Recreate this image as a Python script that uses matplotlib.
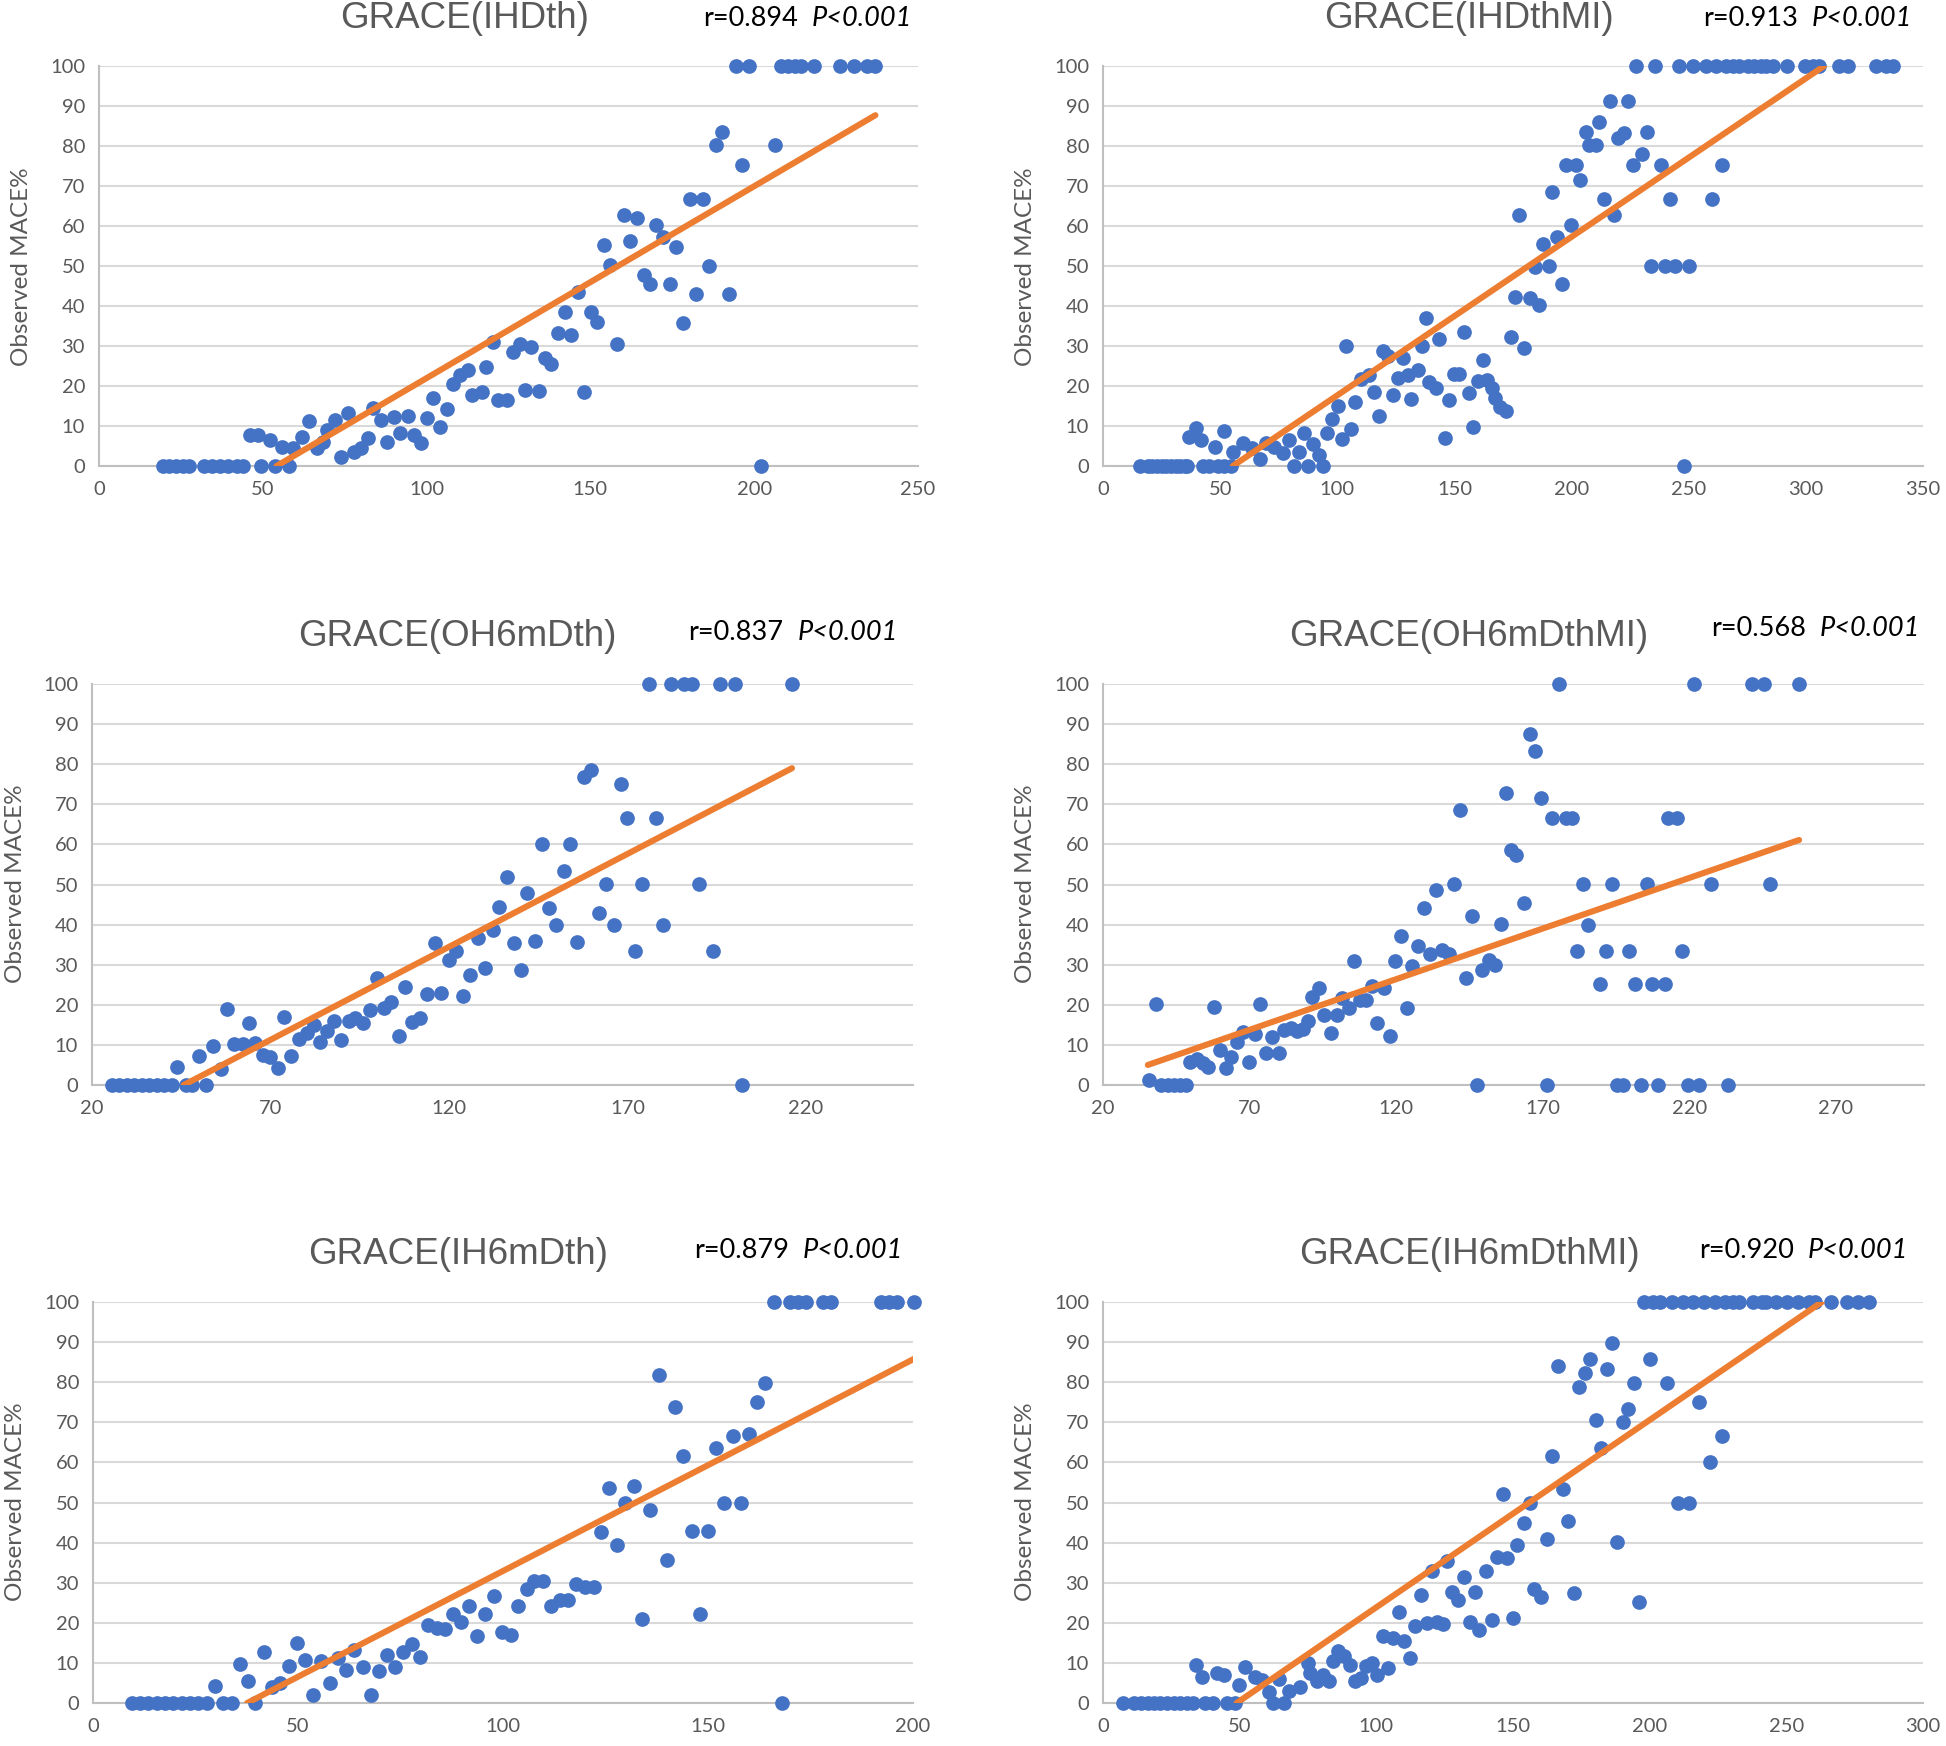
import matplotlib
matplotlib.use("Agg")
import matplotlib.pyplot as plt
import numpy as np

# ---------------- data ----------------
# GRACE(IHDth)
ihdth_x0 = [19.5, 21.5, 23.5, 25.5, 27.5, 32, 34.5, 37, 39.5, 42, 44, 49.6, 53.7, 58, 202.2]
ihdth_x100 = [194.3, 198.4, 208.3, 210.3, 212.4, 214.4, 218.2, 226.2, 230.5, 234.4, 237]
ihdth_x = [46, 48.6, 52.1, 56, 59.3, 62, 64, 66.4, 68.4, 69.6, 72, 74, 76, 77.8, 80.1, 82.2,
           83.7, 86.1, 88, 90, 92, 94.2, 96.1, 98.2, 100.2, 102, 104.1, 106.1, 108.1, 110.2,
           112.7, 114, 116.8, 118.1, 120.3, 121.9, 124.4, 126.3, 128.5, 130, 132, 134.3, 136,
           138.1, 140.1, 142.1, 144, 146.2, 148.1, 150.3, 152.1, 154.2, 156.1, 158.1, 160.2,
           162.2, 164.2, 166.3, 168.3, 170.1, 172.2, 174.2, 176.2, 178.3, 180.3, 182.3, 184.4,
           186.2, 188.2, 190.2, 192.3, 196.3, 206.3]
ihdth_y = [7.7, 7.7, 6.5, 4.8, 4.4, 7.3, 11.3, 4.4, 6.1, 9, 11.5, 2.3, 13.2, 3.6, 4.4, 6.9,
           14.4, 11.5, 6.1, 12.3, 8.3, 12.5, 7.7, 5.7, 12.1, 16.9, 9.8, 14.2, 20.6, 22.7,
           24.1, 17.7, 18.6, 24.8, 31, 16.5, 16.5, 28.6, 30.6, 19, 29.8, 18.8, 26.9,
           25.6, 33.3, 38.4, 32.7, 43.6, 18.6, 38.4, 36.1, 55.3, 50.2, 30.6, 62.7,
           56.3, 61.9, 47.7, 45.6, 60.2, 57.3, 45.6, 54.8, 35.8, 66.7, 43, 66.7,
           50, 80.2, 83.5, 43, 75.2, 80.2]
ihdth_trend = ([54.2, 237], [0, 87.7])

# GRACE(IHDthMI)
ihdthmi_x0 = [15.6, 19, 21, 23, 25, 27, 29, 31, 33, 35, 36, 42.6, 45.4, 49, 51.8, 54.7,
              81.7, 87.4, 93.8, 248.2]
ihdthmi_x100 = [227.7, 235.7, 246, 252, 257.3, 261.6, 265.9, 268.7, 271.6, 275.1, 278, 280.8,
                283, 285.8, 291.8, 299.7, 302.9, 305.7, 314, 317.8, 329.9, 334.2, 337]
ihdthmi_x = [36.9, 39.7, 41.9, 47.6, 51.8, 55.4, 59.6, 63.6, 66.8, 69.6, 73.2, 76.7, 79.6,
             83.8, 86, 89.8, 92.4, 95.6, 97.8, 100.2, 102, 105.9, 103.7, 107.7, 110.2, 113.7,
             115.8, 118, 119.7, 121.6, 123.7, 125.8, 128, 130.1, 131.5, 134.3, 136.2, 137.9,
             139.3, 142.1, 143.6, 146.1, 147.8, 149.7, 152.1, 154, 156.1, 157.8, 160, 162.1,
             163.9, 166, 167.5, 169.5, 172, 174.2, 176, 177.4, 179.8, 182.3, 184.2, 186, 187.8,
             190.2, 191.6, 193.6, 195.9, 197.6, 199.8, 202.1, 203.7, 206.1, 207.6, 210.4,
             211.8, 214, 216.2, 218.3, 219.8, 222.2, 224, 226.2, 230.1, 232.2, 233.9, 238.1,
             240, 242, 244.3, 250.3, 260, 264.2]
ihdthmi_y = [7.3, 9.4, 6.5, 4.8, 8.7, 3.6, 5.7, 4.4, 1.7, 5.8, 4.8, 3.2, 6.5,
             3.6, 8.3, 5.4, 2.7, 8.2, 11.7, 15, 6.7, 9.2, 30, 15.9, 21.7, 22.7,
             18.6, 12.5, 28.7, 27.5, 17.7, 21.9, 26.9, 22.7, 16.7, 24.1, 30, 36.9,
             21, 19.4, 31.7, 7.1, 16.5, 23.1, 23.1, 33.4, 18.3, 9.8, 21.2, 26.6,
             21.5, 19.4, 16.9, 14.8, 13.7, 32.3, 42.3, 62.7, 29.4, 41.9, 49.8, 40.2, 55.6,
             50, 68.5, 57.3, 45.6, 75.2, 60.2, 75.2, 71.4, 83.5, 80.2, 80.2,
             86, 66.7, 91.3, 62.7, 82.1, 83.3, 91.3, 75.2, 77.9, 83.5, 50, 75.2,
             50, 66.7, 50, 50, 66.7, 75.2]
ihdthmi_trend = ([55.4, 307.8], [0, 100])

# GRACE(OH6mDth)
oh6mdth_x0 = [25.6, 27.7, 29.8, 31.9, 34, 36.1, 38.2, 40.3, 42.4, 46.2, 48, 52, 202.1]
oh6mdth_x100 = [176, 182.1, 185.9, 188.2, 196, 200.2, 216.1]
oh6mdth_x = [43.8, 49.9, 53.9, 56, 57.8, 59.9, 62.2, 63.9, 65.8, 67.9, 70, 72, 73.9, 75.8,
             77.9, 80.3, 82.1, 83.8, 85.9, 87.9, 89.8, 92, 93.8, 96, 97.8, 99.9, 101.8, 103.8,
             106, 107.8, 109.7, 111.9, 113.9, 116, 117.8, 120, 122.1, 124, 125.9, 128, 130,
             132.2, 134.1, 136.2, 138.1, 140.1, 142, 144.1, 146.2, 148.1, 149.9, 152.1, 154,
             156, 157.9, 159.9, 162.1, 164.1, 166.1, 168.1, 170, 172, 174, 178, 180, 190.1,
             194.1]
oh6mdth_y = [4.4, 7.3, 9.7, 3.9, 18.9, 10.2, 10.2, 15.5, 10.4, 7.6, 7.1, 4.2, 16.9, 7.3,
             11.4, 12.9, 15, 10.8, 13.5, 16, 11.2, 16, 16.6, 15.5, 18.7, 26.8, 19.1, 20.8,
             12.3, 24.5, 15.8, 16.6, 22.6, 35.5, 22.9, 31.2, 33.3, 22.2, 27.4, 36.6, 29.1,
             38.7, 44.5, 51.8, 35.5, 28.6, 48, 35.9, 60.1, 44.1, 40, 53.4, 60.1,
             35.6, 76.9, 78.5, 42.8, 50.1, 40, 75, 66.7, 33.4, 50.1, 66.7, 40, 50.1,
             33.4]
oh6mdth_trend = ([45.7, 216.1], [0, 79])

# GRACE(OH6mDthMI)
oh6mdthmi_x0 = [39.9, 42, 44.1, 46.3, 48.4, 147.6, 171.5, 195.3, 197.5, 203.6, 209.4, 219.4,
                223.4, 233.3]
oh6mdthmi_x100 = [175.5, 221.5, 241.2, 245.5, 257.4]
oh6mdthmi_x = [35.7, 38, 49.6, 51.9, 54.1, 55.8, 57.9, 59.8, 61.8, 63.8, 65.8, 67.7, 69.8,
               71.9, 73.7, 75.7, 77.7, 79.9, 81.6, 84, 86.1, 88.1, 89.8, 91.3, 93.6, 95.5,
               97.8, 99.7, 101.5, 103.8, 105.7, 107.7, 109.7, 111.7, 113.6, 115.9, 117.8,
               119.6, 121.8, 123.8, 125.5, 127.6, 129.5, 131.4, 133.7, 135.5, 138, 139.7,
               141.6, 143.7, 145.7, 149.4, 151.6, 153.7, 155.6, 157.5, 159, 160.7, 163.5,
               165.6, 167.5, 169.5, 173.2, 177.8, 180, 181.7, 183.6, 185.4, 189.6, 191.6,
               193.6, 199.5, 201.5, 205.5, 207.4, 211.5, 212.8, 215.7, 217.4, 227.4, 247.4]
oh6mdthmi_y = [1.2, 20.2, 5.8, 6.4, 5.6, 4.4, 19.5, 8.7, 4.2, 7.1, 10.8, 13.3, 5.8,
               12.7, 20.2, 7.9, 11.9, 7.9, 13.7, 14.1, 13.5, 13.9, 16, 22, 24.1, 17.5,
               13, 17.5, 21.6, 19.1, 30.8, 21.2, 21.2, 24.7, 15.4, 24.1, 12.3,
               30.8, 37.2, 19.1, 29.7, 34.7, 44.1, 32.7, 48.6, 33.7, 32.6, 50.1,
               68.6, 26.6, 42.1, 28.7, 31.2, 29.9, 40.1, 72.9, 58.6, 57.4, 45.3,
               87.5, 83.3, 71.5, 66.7, 66.7, 66.7, 33.4, 50.1, 40, 25.1, 33.4,
               50.1, 33.4, 25.1, 50.1, 25.1, 25.1, 66.7, 66.7, 33.4, 50.1, 50.1]
oh6mdthmi_trend = ([35.3, 257.4], [5, 61.1])

# GRACE(IH6mDth)
ih6mdth_x0 = [9.5, 11.5, 13.5, 15.6, 17.6, 19.6, 21.6, 23.7, 25.7, 27.8, 31.7, 33.9, 39.6, 168]
ih6mdth_x100 = [166, 170, 172, 173.9, 178, 180, 192.2, 194.2, 196.1, 200.2]
ih6mdth_x = [29.7, 35.8, 37.7, 41.6, 43.7, 45.7, 47.7, 49.7, 51.8, 53.7, 55.6, 57.7, 59.7,
             61.7, 63.7, 65.8, 67.8, 69.7, 71.7, 73.7, 75.6, 77.8, 79.8, 81.7, 83.9, 85.9,
             87.8, 89.7, 91.8, 93.7, 95.7, 97.7, 99.7, 102, 103.6, 105.9, 107.5, 109.8,
             111.8, 113.8, 115.9, 117.9, 120.1, 122.1, 123.9, 125.8, 127.8, 129.8, 131.9,
             133.9, 135.9, 138, 139.9, 141.9, 144, 146, 148, 150, 152, 154, 156.1, 158, 160,
             162, 164]
ih6mdth_y = [4.3, 9.7, 5.6, 12.7, 4.1, 5, 9.3, 14.9, 10.8, 2.1, 10.4, 5, 11.2,
             8.3, 13.1, 9.1, 2.1, 8, 12, 9, 12.6, 14.7, 11.4, 19.5, 18.8, 18.4,
             22.2, 20.1, 24.2, 16.8, 22.2, 26.7, 17.8, 17, 24.1, 28.5, 30.5, 30.5,
             24.2, 25.8, 25.6, 29.6, 29, 29, 42.6, 53.5, 39.3, 50, 54.2,
             21, 48.2, 81.8, 35.7, 73.7, 61.5, 42.8, 22.2, 42.8, 63.6, 50, 66.7, 50, 67.1,
             75, 79.9]
ih6mdth_trend = ([37.6, 200.2], [0, 85.8])

# GRACE(IH6mDthMI)
ih6mdthmi_x0 = [7.4, 11.5, 13.9, 16.3, 18.7, 21, 23.4, 25.8, 28.2, 30.6, 33, 37.3, 40.4, 45.2,
                48.3, 62.1, 66.3]
ih6mdthmi_x100 = [197.9, 201.1, 203.8, 208.1, 212.1, 216, 219.9, 223.9, 227.6, 230.6, 232.5,
                  237.9, 241, 242.6, 246.3, 250.4, 254.4, 258.4, 260.5, 266.3, 272.1, 276.4,
                  280.4]
ih6mdthmi_x = [34, 36.1, 41.6, 44.3, 49.9, 51.9, 55.6, 58, 60.9, 64.4, 68.2, 72.1, 75.1, 75.7,
               78.2, 80.4, 82.5, 84, 86.1, 88.2, 90.4, 92.2, 94.3, 96.2, 98.3, 100.1, 102.3,
               104.4, 106.2, 108.4, 110.1, 112.3, 114.2, 116.2, 118.4, 120.3, 122.1, 124.5,
               126, 127.6, 130, 132.1, 134.1, 136.1, 137.7, 140.1, 142.2, 144, 146.2, 147.7,
               149.9, 151.3, 154, 156.2, 157.8, 160.3, 162.3, 164.2, 166.3, 168.2, 170.3,
               172.3, 174.2, 176.3, 178.2, 180.3, 182.1, 184.3, 186.2, 188.2, 190.1, 192.2,
               194.3, 196.2, 200.1, 206.2, 210.2, 214.4, 218.2, 222.1, 226.3]
ih6mdthmi_y = [9.5, 6.5, 7.5, 7, 4.6, 8.9, 6.5, 5.8, 2.7, 6, 2.9, 4, 10, 7.5,
               5.4, 7.1, 5.4, 10.4, 12.9, 11.6, 9.5, 5.4, 6.2, 9.3, 10, 7.1, 16.8,
               8.7, 16.2, 22.8, 15.4, 11.2, 19.3, 27, 19.9, 32.8, 20.3, 19.8,
               35.3, 27.8, 25.6, 31.5, 20.3, 27.8, 18.3, 32.8, 20.7, 36.3, 52.1, 36.1,
               21.2, 39.4, 44.8, 50, 28.5, 26.4, 40.8, 61.5, 84.1, 53.4, 45.5,
               27.4, 78.7, 82.4, 85.8, 70.6, 63.7, 83.4, 89.9, 40.1, 70, 73.3,
               79.9, 25.1, 85.8, 79.9, 50, 50, 75, 60, 66.7]
ih6mdthmi_trend = ([48.9, 263], [0, 100])

titles = ["GRACE(IHDth)", "GRACE(IHDthMI)", "GRACE(OH6mDth)",
          "GRACE(OH6mDthMI)", "GRACE(IH6mDth)", "GRACE(IH6mDthMI)"]
r_labels = ["r=0.894", "r=0.913", "r=0.837", "r=0.568", "r=0.879", "r=0.920"]
x_limits = [(0, 250), (0, 350), (20, 250), (20, 300), (0, 200), (0, 300)]
x_ticks = [np.arange(0, 251, 50), np.arange(0, 351, 50), np.arange(20, 221, 50),
           np.arange(20, 271, 50), np.arange(0, 201, 50), np.arange(0, 301, 50)]

series = [
    (ihdth_x, ihdth_y, ihdth_x0, ihdth_x100, ihdth_trend),
    (ihdthmi_x, ihdthmi_y, ihdthmi_x0, ihdthmi_x100, ihdthmi_trend),
    (oh6mdth_x, oh6mdth_y, oh6mdth_x0, oh6mdth_x100, oh6mdth_trend),
    (oh6mdthmi_x, oh6mdthmi_y, oh6mdthmi_x0, oh6mdthmi_x100, oh6mdthmi_trend),
    (ih6mdth_x, ih6mdth_y, ih6mdth_x0, ih6mdth_x100, ih6mdth_trend),
    (ih6mdthmi_x, ih6mdthmi_y, ih6mdthmi_x0, ih6mdthmi_x100, ih6mdthmi_trend),
]

# ---------------- layout (pixels of the 1946x1746 canvas) ----------------
W, H = 1946, 1746
# left, top, right, bottom of each plot area
rects = [(99, 66, 918, 466), (1103, 66, 1923, 466),
         (92, 684, 913, 1085), (1103, 684, 1924, 1085),
         (93, 1302, 913, 1703), (1103, 1302, 1923, 1703)]
title_pos = [(465, 19), (1469, 19), (457, 636), (1469, 636), (458, 1254), (1469, 1254)]
rtext_pos = [(912, 18), (1912, 18), (898, 633), (1920, 629), (903, 1251), (1908, 1251)]
ylabel_pos = [(22, 267), (1025, 267), (16, 884), (1025, 884), (16, 1502), (1025, 1502)]

BLUE = "#4472C4"
ORANGE = "#ED7D31"
GREY_TXT = "#595959"
GRID = "#D9D9D9"

fig = plt.figure(figsize=(W / 100, H / 100), dpi=100)

for i, (xs, ys, x0, x100, trend) in enumerate(series):
    l, t, r, b = rects[i]
    ax = fig.add_axes([l / W, 1 - b / H, (r - l) / W, (b - t) / H])

    all_x = list(xs) + list(x0) + list(x100)
    all_y = list(ys) + [0] * len(x0) + [100] * len(x100)
    ax.scatter(all_x, all_y, s=112, color=BLUE, linewidths=0, zorder=3, clip_on=False)
    ax.plot(trend[0], trend[1], color=ORANGE, lw=4.4, solid_capstyle="round", zorder=4)

    ax.set_xlim(*x_limits[i])
    ax.set_ylim(0, 100)
    ax.set_xticks(x_ticks[i])
    ax.set_yticks(np.arange(0, 101, 10))
    ax.grid(axis="y", color=GRID, lw=1.5, zorder=0)
    ax.set_axisbelow(True)
    for side in ("top", "right"):
        ax.spines[side].set_visible(False)
    for side in ("left", "bottom"):
        ax.spines[side].set_color("#BFBFBF")
        ax.spines[side].set_linewidth(1.5)
    ax.tick_params(length=0, labelsize=14.5, labelcolor=GREY_TXT)
    ax.tick_params(axis="x", pad=11)
    ax.tick_params(axis="y", pad=10)
    for lab in ax.get_xticklabels() + ax.get_yticklabels():
        lab.set_family("Lato")

    tx, ty = title_pos[i]
    fig.text(tx / W, 1 - ty / H, titles[i], ha="center", va="center",
             fontsize=26.5, color=GREY_TXT, family="Liberation Sans")

    rx, ry = rtext_pos[i]
    ptxt = fig.text(rx / W, 1 - ry / H, "P<0.001", ha="right", va="center",
                    fontsize=19.5, style="italic", family="Lato", color="black")
    ax.annotate(r_labels[i], xy=(0, 0.5), xycoords=ptxt, xytext=(-10, 0),
                textcoords="offset points", ha="right", va="center",
                fontsize=19.5, family="Lato", color="black", annotation_clip=False)

    lx, ly = ylabel_pos[i]
    fig.text(lx / W, 1 - ly / H, "Observed MACE%", rotation=90, ha="center", va="center",
             fontsize=17.5, color=GREY_TXT, family="Lato")

fig.savefig("out.png", dpi=100, facecolor="white")
